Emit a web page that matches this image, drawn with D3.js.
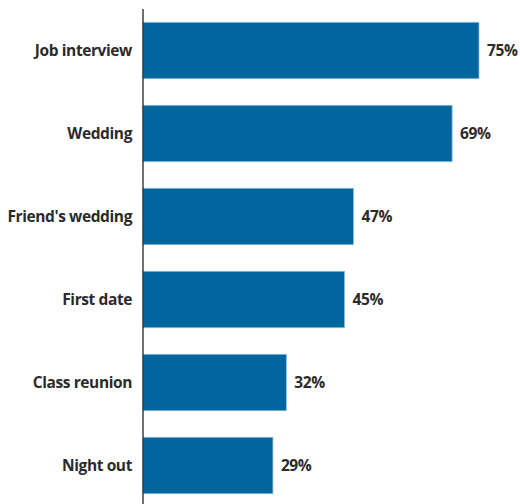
<!DOCTYPE html>
<html>
<head>
<meta charset="utf-8">
<script src="https://cdn.jsdelivr.net/npm/d3@7"></script>
<style>
  html, body { margin: 0; padding: 0; background: #fff; }
  svg text { font-family: "Open Sans", sans-serif; font-weight: bold; fill: #2b2b2b; letter-spacing: -0.4px; }
</style>
</head>
<body>
<svg id="chart" width="520" height="504"></svg>
<script>
const categories = ["Job interview", "Wedding", "Friend's wedding", "First date", "Class reunion", "Night out"];
const values = [75, 69, 47, 45, 32, 29];
const valueLabels = ["75%", "69%", "47%", "45%", "32%", "29%"];

const svg = d3.select("#chart");
const axisX = 143;

const x = d3.scaleLinear().domain([0, 75]).range([axisX, 479]);
const y = d3.scaleBand().domain(categories).range([9, 507]).paddingInner(0.32).paddingOuter(0.16);

const rows = categories.map((c, i) => ({ c, v: values[i], label: valueLabels[i] }));

svg.selectAll("rect.bar").data(rows).join("rect")
  .attr("class", "bar")
  .attr("x", x(0))
  .attr("y", d => y(d.c))
  .attr("width", d => x(d.v) - x(0))
  .attr("height", y.bandwidth())
  .attr("fill", "#02669e")
  .attr("stroke", "#8fbfdc")
  .attr("stroke-width", 0.8);

svg.selectAll("text.cat").data(rows).join("text")
  .attr("class", "cat")
  .attr("x", axisX - 11)
  .attr("y", d => y(d.c) + y.bandwidth() / 2)
  .attr("dy", "0.35em")
  .attr("text-anchor", "end")
  .attr("font-size", 15.5)
  .text(d => d.c);

svg.selectAll("text.val").data(rows).join("text")
  .attr("class", "val")
  .attr("x", d => x(d.v) + 8)
  .attr("y", d => y(d.c) + y.bandwidth() / 2)
  .attr("dy", "0.35em")
  .attr("font-size", 15.5)
  .text(d => d.label);

svg.append("line")
  .attr("x1", axisX).attr("x2", axisX)
  .attr("y1", 9).attr("y2", 504)
  .attr("stroke", "#222").attr("stroke-width", 1.3);
</script>
</body>
</html>
